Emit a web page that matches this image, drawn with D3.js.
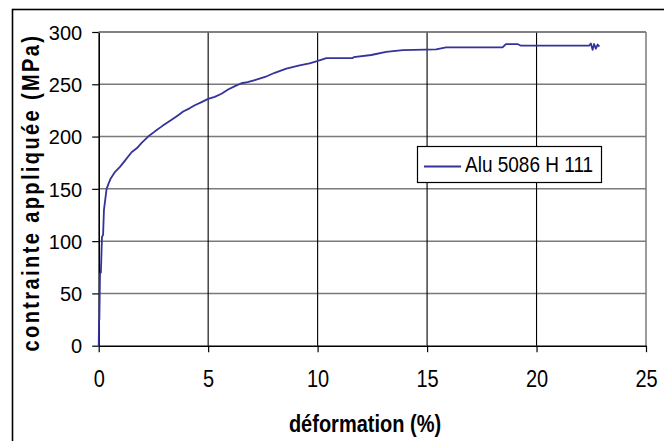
<!DOCTYPE html>
<html>
<head>
<meta charset="utf-8">
<script src="https://cdn.jsdelivr.net/npm/d3@7"></script>
<style>
  html, body { margin: 0; padding: 0; background: #fff; }
  svg { display: block; }
  text { font-family: "Liberation Sans", Arial, sans-serif; fill: #000; }
</style>
</head>
<body>
<svg id="chart" width="664" height="441"></svg>
<script>
// ---- data ----
const seriesName = "Alu 5086 H 111";
const strain = [0, 0.015, 0.03, 0.06, 0.1, 0.15, 0.2, 0.24, 0.3, 0.36, 0.45, 0.55, 0.74, 0.97, 1.2, 1.5, 1.75, 1.96, 2.26, 2.57, 2.9, 3.33, 3.6, 3.86, 4.15, 4.39, 4.7, 5.0, 5.3, 5.61, 5.91, 6.2, 6.52, 6.8, 7.13, 7.6, 8.04, 8.57, 9.18, 9.63, 9.94, 10.4, 11.6, 11.65, 12.45, 13.13, 13.89, 15.41, 15.87, 18.45, 18.6, 19.13, 19.29, 22.4, 22.48, 22.56, 22.63, 22.71, 22.79, 22.87];
const stress = [0, 24, 25, 69, 70, 104, 106, 130, 140, 150, 155, 160, 166, 171, 177, 185, 189, 194, 200, 205, 210, 216, 220, 224, 227, 230, 233, 236, 238, 241, 245, 248, 251, 252, 254, 257, 261, 265, 268, 270, 272, 275, 275, 276, 278, 281, 282.6, 283.4, 285.3, 285.3, 288.5, 288.5, 286.9, 286.9, 289, 283, 288.5, 284, 288, 286, 286.5];
const xTicks = [0, 5, 10, 15, 20, 25];
const yTicks = [0, 50, 100, 150, 200, 250, 300];
const xTitle = "déformation (%)";
const yTitle = "contrainte appliquée (MPa)";

(function () {
// ---- layout ----
const svg = d3.select("#chart");
const pLeft = 98.7, pRight = 646, pTop = 32, pBottom = 345.7;
const x = d3.scaleLinear().domain([0, 25]).range([pLeft, pRight]);
const y = d3.scaleLinear().domain([0, 300]).range([pBottom, pTop]);
const lineColor = "#333399";

// outer chart frame (extends beyond the picture on the right and bottom)
svg.append("rect")
  .attr("x", 12.5).attr("y", 9.5).attr("width", 720).attr("height", 520)
  .attr("fill", "none").attr("stroke", "#000").attr("stroke-width", 1.6);

// horizontal gridlines (gray)
svg.append("g").selectAll("line").data(yTicks.filter(d => d > 0))
  .join("line")
  .attr("x1", pLeft).attr("x2", pRight)
  .attr("y1", d => y(d)).attr("y2", d => y(d))
  .attr("stroke", "#7a7a7a").attr("stroke-width", 1.5);

// vertical gridlines (black) and right border (gray)
svg.append("g").selectAll("line").data(xTicks.filter(d => d > 0))
  .join("line")
  .attr("x1", d => x(d)).attr("x2", d => x(d))
  .attr("y1", pTop).attr("y2", pBottom)
  .attr("stroke", d => d === 25 ? "#7a7a7a" : "#000")
  .attr("stroke-width", d => d === 25 ? 1.5 : 1.1);

// x axis
const xAxis = svg.append("g")
  .attr("transform", `translate(0,${pBottom})`)
  .call(d3.axisBottom(x).tickValues(xTicks).tickSize(6.5).tickSizeOuter(0).tickFormat(d3.format("d")));
xAxis.select(".domain").attr("stroke", "#000").attr("stroke-width", 1.6);
xAxis.selectAll(".tick line").attr("stroke", "#000").attr("stroke-width", 1.2);
xAxis.selectAll(".tick text")
  .attr("y", 0).attr("dy", 0)
  .attr("transform", `translate(0,${387 - pBottom}) scale(1,1.18)`)
  .style("font-size", "20px").style("font-family", "'Liberation Sans', Arial, sans-serif").attr("fill", "#000");

// y axis
const yAxis = svg.append("g")
  .attr("transform", `translate(${pLeft},0)`)
  .call(d3.axisLeft(y).tickValues(yTicks).tickSize(6.5).tickSizeOuter(0).tickFormat(d3.format("d")));
yAxis.select(".domain").attr("stroke", "#000").attr("stroke-width", 1.6);
yAxis.selectAll(".tick line").attr("stroke", "#000").attr("stroke-width", 1.2);
yAxis.selectAll(".tick text")
  .attr("x", -16.5).attr("dy", "0.36em")
  .style("font-size", "20px").style("font-family", "'Liberation Sans', Arial, sans-serif").attr("fill", "#000");

// top border (gray)
svg.append("line")
  .attr("x1", pLeft).attr("x2", pRight).attr("y1", y(300)).attr("y2", y(300))
  .attr("stroke", "#7a7a7a").attr("stroke-width", 1.5);

// data line
const pts = strain.map((s, i) => [s, stress[i]]);
svg.append("path")
  .datum(pts)
  .attr("fill", "none")
  .attr("stroke", lineColor)
  .attr("stroke-width", 1.8)
  .attr("stroke-linejoin", "round")
  .attr("d", d3.line().x(d => x(d[0])).y(d => y(d[1])).curve(d3.curveLinear));

// axis titles
svg.append("text")
  .attr("transform", `translate(365,432) scale(1,1.15)`)
  .attr("text-anchor", "middle")
  .style("font-size", "20px").style("font-weight", "bold")
  .text(xTitle);

svg.append("text")
  .attr("transform", `translate(39,192.5) rotate(-90) scale(1,1.2)`)
  .attr("text-anchor", "middle")
  .style("font-size", "20px").style("font-weight", "bold")
  .style("letter-spacing", "2.4px")
  .text(yTitle);

// legend
const lg = svg.append("g");
lg.append("rect")
  .attr("x", 417.5).attr("y", 146.5).attr("width", 184).attr("height", 36)
  .attr("fill", "#fff").attr("stroke", "#000").attr("stroke-width", 1.2);
lg.append("line")
  .attr("x1", 424).attr("x2", 461).attr("y1", 166.5).attr("y2", 166.5)
  .attr("stroke", lineColor).attr("stroke-width", 1.8);
lg.append("text")
  .attr("transform", `translate(465,172) scale(1,1.15)`)
  .style("font-size", "19px")
  .text(seriesName);
})();
</script>
</body>
</html>
